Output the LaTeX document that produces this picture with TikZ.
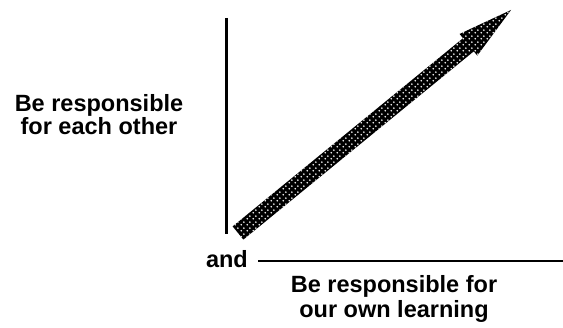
\documentclass[tikz,border=0pt]{standalone}
\usepackage{fontspec}
\setmainfont{Liberation Sans}
\usetikzlibrary{calc,patterns.meta}
\tikzdeclarepattern{
  name=scandots,
  type=uncolored,
  bounding box={(0pt,0pt) and (6pt,6pt)},
  tile size={(6pt,6pt)},
  code={
    \fill (1.5pt,1.5pt) circle (1.05pt);
    \fill (4.5pt,4.5pt) circle (1.05pt);
  }
}
\begin{document}
\begin{tikzpicture}[x=1pt,y=-1pt,
  lbl/.style={font=\bfseries\fontsize{23.5}{23}\selectfont, align=center, inner sep=0pt, anchor=base},
  axis/.style={line width=3pt, black},
  arrowbody/.style={fill=black},
  arrowdots/.style={pattern=scandots, pattern color=white}]
\useasboundingbox (0,0) rectangle (563,328);
% axes
\coordinate (vtop) at (226,18);
\coordinate (vbot) at (226,234);
\draw[axis] (vtop) -- (vbot);
\node[lbl, anchor=base east] (and) at (248,268) {and};
\coordinate (hend) at (563,261);
\draw[line width=2pt] (and.east) ++(10,1.5) coordinate (hstart) -- (hstart -| hend);
% labels
\node[lbl] (ylab) at (99,135) {Be responsible\\for each other};
\node[lbl, font=\bfseries\fontsize{23.5}{25}\selectfont] (xlab) at (394,318) {Be responsible for\\our own learning};
% arrow
\coordinate (tail) at (238,233);
\coordinate (tip) at (511,10);
\coordinate (hb) at ($(tip)!55pt!(tail)$);
\path
  ($(tail)!8.5pt!90:(tip)$) coordinate (t1)
  ($(tail)!8.5pt!-90:(tip)$) coordinate (t2)
  ($(hb)!8.5pt!-90:(tip)$) coordinate (s2)
  ($(hb)!8.5pt!90:(tip)$) coordinate (s1)
  ($(hb)!14pt!-90:(tip)$) coordinate (b2)
  ($(hb)!14pt!90:(tip)$) coordinate (b1);
\fill[arrowbody] (t1) -- (s1) -- (b1) -- (tip) -- (b2) -- (s2) -- (t2) -- cycle;
\fill[arrowdots] (t1) -- (s1) -- (b1) -- (tip) -- (b2) -- (s2) -- (t2) -- cycle;
\end{tikzpicture}
\end{document}
